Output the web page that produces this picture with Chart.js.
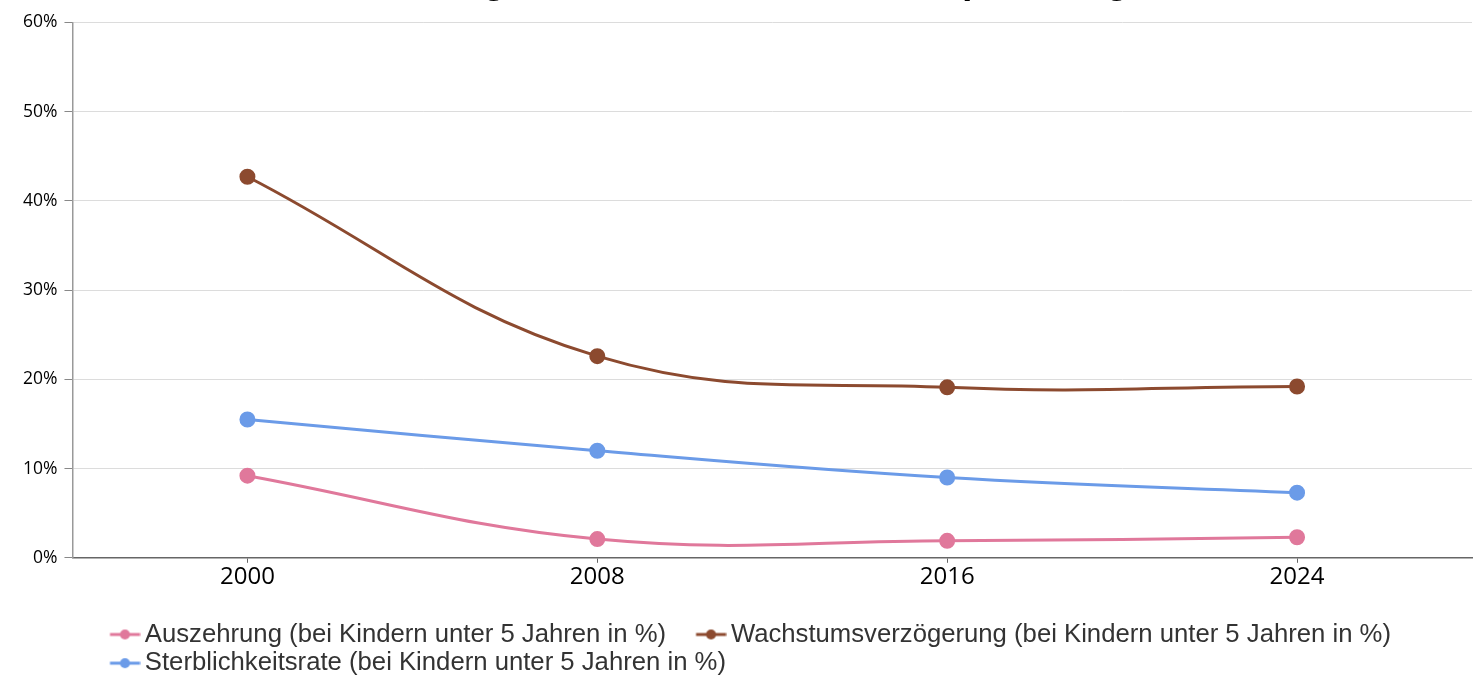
<!DOCTYPE html>
<html>
<head>
<meta charset="utf-8">
<script src="https://cdn.jsdelivr.net/npm/chart.js@4/dist/chart.umd.min.js"></script>
<style>
html, body { margin:0; padding:0; background:#fff; overflow:hidden; }
#wrap { position:absolute; left:0; top:-39px; width:1481px; height:716px; }
</style>
</head>
<body>
<div id="wrap"><canvas id="c"></canvas></div>
<script>
const title = 'Entwicklung der Indikatorwerte von Äquatorialguinea'
const years = ['2000', '2008', '2016', '2024']
const auszehrung = [9.2, 2.1, 1.9, 2.3]
const wachstum = [42.7, 22.6, 19.1, 19.2]
const sterblichkeit = [15.5, 12.0, 9.0, 7.3]
const yTicks = [0, 10, 20, 30, 40, 50, 60]

const series = [
	{ label: 'Auszehrung (bei Kindern unter 5 Jahren in %)', data: auszehrung, color: '#e0789b' },
	{ label: 'Wachstumsverzögerung (bei Kindern unter 5 Jahren in %)', data: wachstum, color: '#8c4a2f' },
	{ label: 'Sterblichkeitsrate (bei Kindern unter 5 Jahren in %)', data: sterblichkeit, color: '#6b9be8' },
]

// legend marker: short line with a dot, drawn off-centre so text sits close to it
const marker = col => {
	const b = document.createElement('canvas')
	b.width = 66; b.height = 16
	const x = b.getContext('2d')
	x.strokeStyle = col; x.fillStyle = col; x.lineWidth = 3
	x.beginPath(); x.moveTo(35.5, 8); x.lineTo(65.5, 8); x.stroke()
	x.beginPath(); x.arc(50.5, 8, 5, 0, Math.PI * 2); x.fill()
	return b
}

const shift = {
	id: 'shift',
	afterLayout(c) {
		const d = 80 - c.legend.left
		c.legend.left += d; c.legend.right += d
		c.legend.top += 11; c.legend.bottom += 11
		c.titleBlock.left += 9; c.titleBlock.right += 9
	}
}

new Chart(document.getElementById('c'), {
	type: 'line',
	data: {
		labels: years,
		datasets: series.map(s => ({
			label: s.label,
			data: s.data,
			borderColor: s.color,
			backgroundColor: s.color,
			borderWidth: 3,
			pointRadius: 7,
			pointBorderWidth: 2,
			pointBackgroundColor: s.color,
			pointBorderColor: s.color,
			tension: 0.4,
			fill: false,
		}))
	},
	options: {
		responsive: true,
		maintainAspectRatio: false,
		animation: false,
		layout: { padding: { left: 16, right: 2, top: 0, bottom: 2 } },
		plugins: {
			title: {
				display: true,
				text: title,
				color: '#000',
				font: { family: 'Liberation Sans, Arial, sans-serif', size: 37, weight: 'bold' },
				padding: { top: 0, bottom: 17 },
			},
			legend: {
				position: 'bottom',
				align: 'start',
				labels: {
					usePointStyle: true,
					pointStyleWidth: 49,
					padding: 3,
					color: '#333',
					font: { family: 'Liberation Sans, Arial, sans-serif', size: 25.7 },
					generateLabels(c) {
						const a = Chart.defaults.plugins.legend.labels.generateLabels(c)
						a.forEach((it, i) => { it.pointStyle = marker(series[i].color) })
						return a
					}
				}
			},
			tooltip: { enabled: false },
		},
		scales: {
			x: {
				offset: true,
				afterFit: ax => { ax.height += 16 },
				grid: { display: true, drawOnChartArea: false, tickLength: 5, tickColor: '#666' },
				border: { color: '#666', width: 1.5 },
				ticks: { color: '#000', padding: 0, font: { family: 'Open Sans, sans-serif', size: 24 } },
			},
			y: {
				min: 0,
				max: 60,
				afterBuildTicks: ax => { ax.ticks = yTicks.map(v => ({ value: v })) },
				grid: { color: '#dcdcdc', lineWidth: 1, tickLength: 8, tickColor: '#888' },
				border: { color: '#999', width: 1.5 },
				ticks: { color: '#000', padding: 7, callback: v => v + '%', font: { family: 'Open Sans, sans-serif', size: 17.5 } },
			}
		}
	},
	plugins: [shift]
})
</script>
</body>
</html>
